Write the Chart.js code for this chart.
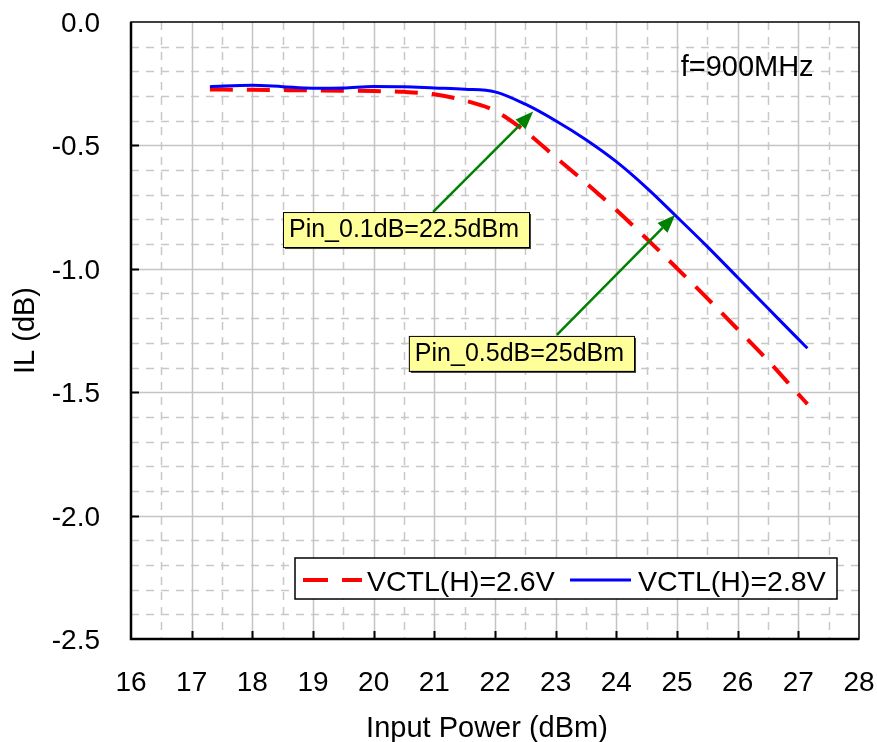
<!DOCTYPE html>
<html>
<head>
<meta charset="utf-8">
<script src="https://cdn.jsdelivr.net/npm/chart.js@4.4.1/dist/chart.umd.min.js"></script>
<style>
  html, body { margin: 0; padding: 0; background: #fff; }
  #wrap { width: 877px; height: 742px; position: relative; }
</style>
</head>
<body>
<div id="wrap"><canvas id="ilChart"></canvas></div>
<script>
// axis ticks
const xTicks = [16, 17, 18, 19, 20, 21, 22, 23, 24, 25, 26, 27, 28];
const yTicks = [0, -0.5, -1, -1.5, -2, -2.5];

// VCTL(H)=2.6V (red dashed)
const powerRed = [17.3, 18, 19, 20, 20.5, 21, 21.5, 22, 22.5, 23, 23.5, 24, 24.5, 25, 25.5, 26, 26.5, 27, 27.15];
const ilRed = [-0.273, -0.275, -0.277, -0.28, -0.283, -0.293, -0.318, -0.36, -0.443, -0.548, -0.652, -0.762, -0.878, -0.998, -1.12, -1.245, -1.372, -1.508, -1.548];

// VCTL(H)=2.8V (blue solid)
const powerBlue = [17.3, 18, 18.5, 19, 19.5, 20, 20.5, 21, 21.5, 22, 22.5, 23, 23.5, 24, 24.5, 25, 25.5, 26, 26.5, 27, 27.15];
const ilBlue = [-0.262, -0.256, -0.262, -0.268, -0.267, -0.261, -0.262, -0.267, -0.272, -0.283, -0.333, -0.4, -0.477, -0.566, -0.672, -0.79, -0.91, -1.035, -1.16, -1.285, -1.322];

const seriesNames = ['VCTL(H)=2.6V', 'VCTL(H)=2.8V'];
const noteTexts = ['Pin_0.1dB=22.5dBm', 'Pin_0.5dB=25dBm'];
const freqLabel = 'f=900MHz';

const FONT = '"Liberation Sans", Arial, sans-serif';

function toPoints(xs, ys) {
  return xs.map((v, i) => ({ x: v, y: ys[i] }));
}

// background grid, Excel style: solid on majors, dashed on minors
const gridPlugin = {
  id: 'gridLines',
  beforeDatasetsDraw(chart) {
    const { ctx, chartArea: a, scales: { x, y } } = chart;
    ctx.save();
    ctx.lineWidth = 1.5;
    ctx.strokeStyle = '#c8c8c8';
    ctx.setLineDash([8, 7]);
    for (let v = 16.5; v < 28; v += 1) {
      const px = Math.round(x.getPixelForValue(v)) + 0.5;
      ctx.beginPath(); ctx.moveTo(px, a.top); ctx.lineTo(px, a.bottom); ctx.stroke();
    }
    for (let i = 1; i < 25; i++) {
      if (i % 5 === 0) continue;
      const py = Math.round(y.getPixelForValue(-i / 10)) + 0.5;
      ctx.beginPath(); ctx.moveTo(a.left, py); ctx.lineTo(a.right, py); ctx.stroke();
    }
    ctx.setLineDash([]);
    ctx.strokeStyle = '#c4c4c4';
    xTicks.slice(1, -1).forEach(v => {
      const px = Math.round(x.getPixelForValue(v)) + 0.5;
      ctx.beginPath(); ctx.moveTo(px, a.top); ctx.lineTo(px, a.bottom); ctx.stroke();
    });
    yTicks.slice(1, -1).forEach(v => {
      const py = Math.round(y.getPixelForValue(v)) + 0.5;
      ctx.beginPath(); ctx.moveTo(a.left, py); ctx.lineTo(a.right, py); ctx.stroke();
    });
    ctx.restore();
  }
};

function drawArrow(ctx, x0, y0, x1, y1) {
  const ang = Math.atan2(y1 - y0, x1 - x0);
  const len = 18, half = 7;
  const bx = x1 - len * Math.cos(ang), by = y1 - len * Math.sin(ang);
  ctx.beginPath(); ctx.moveTo(x0, y0); ctx.lineTo(bx, by); ctx.stroke();
  ctx.beginPath();
  ctx.moveTo(x1, y1);
  ctx.lineTo(bx + half * Math.sin(ang), by - half * Math.cos(ang));
  ctx.lineTo(bx - half * Math.sin(ang), by + half * Math.cos(ang));
  ctx.closePath(); ctx.fill();
}

function drawNote(ctx, text, left, top) {
  ctx.font = '25px ' + FONT;
  const w = ctx.measureText(text).width + 16;
  const h = 35;
  ctx.fillStyle = '#404040';
  ctx.fillRect(left + 2, top + 2, w, h);
  ctx.fillStyle = '#ffff99';
  ctx.fillRect(left, top, w, h);
  ctx.strokeStyle = '#000';
  ctx.lineWidth = 1;
  ctx.strokeRect(left + 0.5, top + 0.5, w, h);
  ctx.fillStyle = '#000';
  ctx.textAlign = 'left';
  ctx.textBaseline = 'alphabetic';
  ctx.fillText(text, left + 6, top + 25);
}

const decorPlugin = {
  id: 'decor',
  afterDatasetsDraw(chart) {
    const { ctx, chartArea: a, scales: { x, y } } = chart;
    ctx.save();

    // frame
    ctx.strokeStyle = '#000';
    ctx.lineWidth = 1.5;
    ctx.strokeRect(a.left, a.top, a.right - a.left, a.bottom - a.top);
    ctx.lineWidth = 2.5;
    ctx.beginPath();
    ctx.moveTo(a.left, a.top); ctx.lineTo(a.left, a.bottom); ctx.lineTo(a.right, a.bottom);
    ctx.stroke();

    // inward tick marks
    ctx.lineWidth = 2;
    xTicks.slice(1, -1).forEach(v => {
      const px = Math.round(x.getPixelForValue(v)) + 0.5;
      ctx.beginPath(); ctx.moveTo(px, a.bottom); ctx.lineTo(px, a.bottom - 8); ctx.stroke();
    });
    yTicks.slice(1, -1).forEach(v => {
      const py = Math.round(y.getPixelForValue(v)) + 0.5;
      ctx.beginPath(); ctx.moveTo(a.left, py); ctx.lineTo(a.left + 8, py); ctx.stroke();
    });

    // tick labels
    ctx.fillStyle = '#000';
    ctx.font = '28px ' + FONT;
    ctx.textBaseline = 'alphabetic';
    ctx.textAlign = 'center';
    xTicks.forEach(v => ctx.fillText(String(v), x.getPixelForValue(v), a.bottom + 52));
    ctx.textAlign = 'right';
    yTicks.forEach(v => ctx.fillText(v.toFixed(1), a.left - 31, y.getPixelForValue(v) + 10));

    // axis titles
    ctx.font = '29px ' + FONT;
    ctx.textAlign = 'center';
    ctx.fillText('Input Power (dBm)', (a.left + a.right) / 2 - 8, 737);
    ctx.save();
    ctx.translate(34, (a.top + a.bottom) / 2);
    ctx.rotate(-Math.PI / 2);
    ctx.fillText('IL (dB)', 0, 0);
    ctx.restore();

    // frequency label
    ctx.textAlign = 'left';
    ctx.fillText(freqLabel, x.getPixelForValue(25.06), y.getPixelForValue(-0.22));

    // annotation arrows and boxes
    ctx.strokeStyle = '#008000';
    ctx.fillStyle = '#008000';
    ctx.lineWidth = 2.5;
    drawArrow(ctx, x.getPixelForValue(20.98), y.getPixelForValue(-0.769),
                   x.getPixelForValue(22.63), y.getPixelForValue(-0.363));
    drawArrow(ctx, x.getPixelForValue(23.02), y.getPixelForValue(-1.268),
                   x.getPixelForValue(24.97), y.getPixelForValue(-0.782));
    drawNote(ctx, noteTexts[0], x.getPixelForValue(18.505), y.getPixelForValue(-0.77));
    drawNote(ctx, noteTexts[1], x.getPixelForValue(20.58), y.getPixelForValue(-1.272));

    // legend box
    const lx = 295, ly = 558, lw = 542, lh = 41;
    ctx.fillStyle = '#fff';
    ctx.fillRect(lx, ly, lw, lh);
    ctx.strokeStyle = '#000';
    ctx.lineWidth = 1.5;
    ctx.strokeRect(lx, ly, lw, lh);
    const ds = chart.data.datasets;
    const midY = 580;
    ctx.lineWidth = ds[0].borderWidth;
    ctx.strokeStyle = ds[0].borderColor;
    ctx.setLineDash([25, 14]);
    ctx.beginPath(); ctx.moveTo(303, midY); ctx.lineTo(362, midY); ctx.stroke();
    ctx.setLineDash([]);
    ctx.lineWidth = ds[1].borderWidth;
    ctx.strokeStyle = ds[1].borderColor;
    ctx.beginPath(); ctx.moveTo(570, midY); ctx.lineTo(631, midY); ctx.stroke();
    ctx.fillStyle = '#000';
    ctx.font = '28.5px ' + FONT;
    ctx.textAlign = 'left';
    ctx.fillText(seriesNames[0], 367, 591);
    ctx.fillText(seriesNames[1], 638, 591);

    ctx.restore();
  }
};

const ctx = document.getElementById('ilChart').getContext('2d');
const chart = new Chart(ctx, {
  type: 'scatter',
  data: {
    datasets: [
      {
        label: seriesNames[0],
        data: toPoints(powerRed, ilRed),
        showLine: true,
        borderColor: '#ff0000',
        borderWidth: 4,
        borderDash: [23, 14],
        pointRadius: 0,
        tension: 0.4,
        cubicInterpolationMode: 'monotone',
        order: 1
      },
      {
        label: seriesNames[1],
        data: toPoints(powerBlue, ilBlue),
        showLine: true,
        borderColor: '#0000ff',
        borderWidth: 3,
        pointRadius: 0,
        tension: 0.4,
        cubicInterpolationMode: 'monotone',
        order: 0
      }
    ]
  },
  options: {
    responsive: true,
    maintainAspectRatio: false,
    animation: false,
    layout: { padding: { left: 131, right: 18, top: 22, bottom: 103 } },
    plugins: { legend: { display: false }, tooltip: { enabled: false } },
    scales: {
      x: { type: 'linear', min: 16, max: 28, display: false },
      y: { type: 'linear', min: -2.5, max: 0, display: false }
    }
  },
  plugins: [gridPlugin, decorPlugin]
});
</script>
</body>
</html>
